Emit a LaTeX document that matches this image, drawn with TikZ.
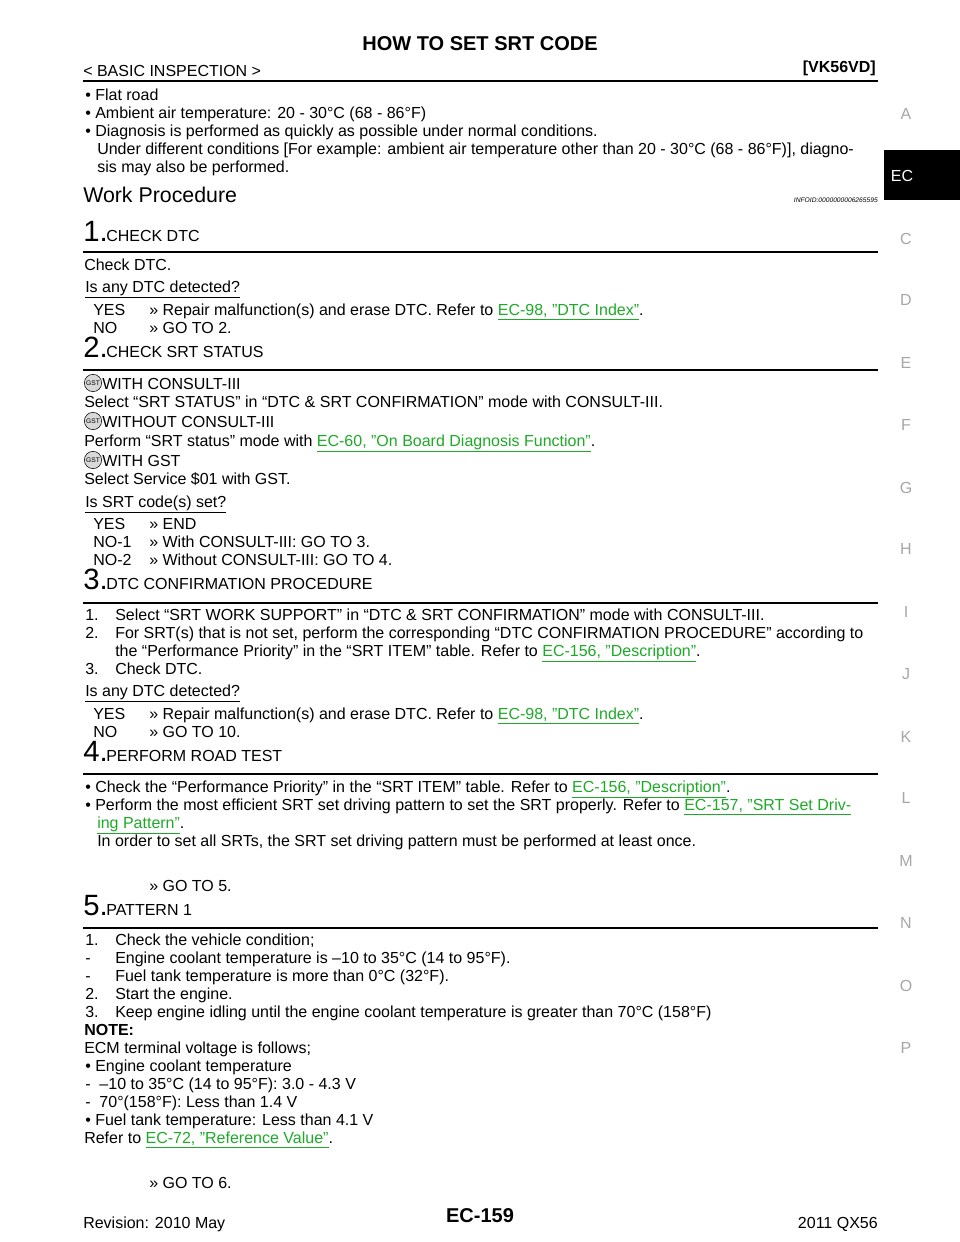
\documentclass[tikz,border=0pt]{standalone}
\usepackage{fontspec}
\setmainfont{Liberation Sans}
\definecolor{lnk}{RGB}{30,170,40}
\newcommand{\lk}[1]{\textcolor{lnk}{\underline{#1}}}
\newcommand{\T}[3]{\node[anchor=base west,inner sep=0] at (#1,#2+6) {#3};}
\newcommand{\SN}[4]{\node[anchor=base west,inner sep=0,font=\fontsize{22}{22}\selectfont] at (83,#2+9) {#1.};
 \node[anchor=base west,inner sep=0] at (106,#2+9) {#3};
 \draw[line width=0.8pt] (83,#4)--(878,#4);}
\newcommand{\ic}[2]{\node[circle,draw,inner sep=0,minimum size=13pt,fill=gray!30,font=\fontsize{5}{5}\selectfont] at (#1,#2) {GST};}
\begin{document}
\begin{tikzpicture}[x=0.75pt,y=-0.75pt,font=\fontsize{12}{14}\selectfont]
\useasboundingbox (0,0) rectangle (960,1242);
\node[font=\fontsize{15}{15}\selectfont\bfseries] at (480,44) {HOW TO SET SRT CODE};
\T{83}{70}{< BASIC INSPECTION >}
\node[anchor=base east,inner sep=0,font=\fontsize{12}{14}\selectfont\bfseries] at (876,72) {[VK56VD]};
\draw[line width=1.6pt] (83,81)--(878,81);
% side tabs
\fill (884,150) rectangle (960,200);
\node[white] at (902,176) {EC};
\foreach \l/\y in {A/114,C/239,D/300,E/363,F/425,G/488,H/549,I/612,J/674,K/737,L/798,M/861,N/923,O/986,P/1048}
  \node[gray!70] at (906,\y) {\l};
\T{85}{94}{• Flat road}
\T{85}{112}{• Ambient air temperature: 20 - 30°C (68 - 86°F)}
\T{85}{130}{• Diagnosis is performed as quickly as possible under normal conditions.}
\T{97}{148}{Under different conditions [For example: ambient air temperature other than 20 - 30°C (68 - 86°F)], diagno-}
\T{97}{166}{sis may also be performed.}
\node[anchor=base west,inner sep=0,font=\fontsize{16}{16}\selectfont] at (83,202) {Work Procedure};
\node[anchor=base east,inner sep=0,font=\fontsize{5}{5}\selectfont\itshape] at (878,202) {INFOID:0000000006265595};
\SN{1}{232}{CHECK DTC}{252}
\T{84}{264}{Check DTC.}
\T{85}{286}{\underline{Is any DTC detected?}}
\T{93}{309}{YES}\T{149}{309}{>> Repair malfunction(s) and erase DTC. Refer to \lk{EC-98, "DTC Index"}.}
\T{93}{327}{NO}\T{149}{327}{>> GO TO 2.}
\SN{2}{348}{CHECK SRT STATUS}{370}
\ic{93}{383}\T{102}{383}{WITH CONSULT-III}
\T{84}{401}{Select “SRT STATUS” in “DTC \& SRT CONFIRMATION” mode with CONSULT-III.}
\ic{93}{421}\T{102}{421}{WITHOUT CONSULT-III}
\T{84}{440}{Perform “SRT status” mode with \lk{EC-60, "On Board Diagnosis Function"}.}
\ic{93}{460}\T{102}{460}{WITH GST}
\T{84}{478}{Select Service \$01 with GST.}
\T{85}{501}{\underline{Is SRT code(s) set?}}
\T{93}{523}{YES}\T{149}{523}{>> END}
\T{93}{541}{NO-1}\T{149}{541}{>> With CONSULT-III: GO TO 3.}
\T{93}{559}{NO-2}\T{149}{559}{>> Without CONSULT-III: GO TO 4.}
\SN{3}{580}{DTC CONFIRMATION PROCEDURE}{603}
\T{85}{614}{1.}\T{115}{614}{Select “SRT WORK SUPPORT” in “DTC \& SRT CONFIRMATION” mode with CONSULT-III.}
\T{85}{632}{2.}\T{115}{632}{For SRT(s) that is not set, perform the corresponding “DTC CONFIRMATION PROCEDURE” according to}
\T{115}{650}{the “Performance Priority” in the “SRT ITEM” table. Refer to \lk{EC-156, "Description"}.}
\T{85}{668}{3.}\T{115}{668}{Check DTC.}
\T{85}{690}{\underline{Is any DTC detected?}}
\T{93}{713}{YES}\T{149}{713}{>> Repair malfunction(s) and erase DTC. Refer to \lk{EC-98, "DTC Index"}.}
\T{93}{731}{NO}\T{149}{731}{>> GO TO 10.}
\SN{4}{752}{PERFORM ROAD TEST}{774}
\T{85}{786}{• Check the “Performance Priority” in the “SRT ITEM” table. Refer to \lk{EC-156, "Description"}.}
\T{85}{804}{• Perform the most efficient SRT set driving pattern to set the SRT properly. Refer to \lk{EC-157, "SRT Set Driv-}}
\T{97}{822}{\lk{ing Pattern"}.}
\T{97}{840}{In order to set all SRTs, the SRT set driving pattern must be performed at least once.}
\T{149}{885}{>> GO TO 5.}
\SN{5}{906}{PATTERN 1}{928}
\T{85}{939}{1.}\T{115}{939}{Check the vehicle condition;}
\T{85}{957}{-}\T{115}{957}{Engine coolant temperature is –10 to 35°C (14 to 95°F).}
\T{85}{975}{-}\T{115}{975}{Fuel tank temperature is more than 0°C (32°F).}
\T{85}{993}{2.}\T{115}{993}{Start the engine.}
\T{85}{1011}{3.}\T{115}{1011}{Keep engine idling until the engine coolant temperature is greater than 70°C (158°F)}
\T{84}{1029}{\bfseries NOTE:}
\T{84}{1047}{ECM terminal voltage is follows;}
\T{85}{1065}{• Engine coolant temperature}
\T{85}{1083}{-\ \ –10 to 35°C (14 to 95°F): 3.0 - 4.3 V}
\T{85}{1101}{-\ \ 70°(158°F): Less than 1.4 V}
\T{85}{1119}{• Fuel tank temperature: Less than 4.1 V}
\T{84}{1137}{Refer to \lk{EC-72, "Reference Value"}.}
\T{149}{1182}{>> GO TO 6.}
\T{83}{1222}{Revision: 2010 May}
\node[font=\fontsize{15}{15}\selectfont\bfseries] at (480,1216) {EC-159};
\node[anchor=base east,inner sep=0] at (878,1228) {2011 QX56};
\end{tikzpicture}
\end{document}
